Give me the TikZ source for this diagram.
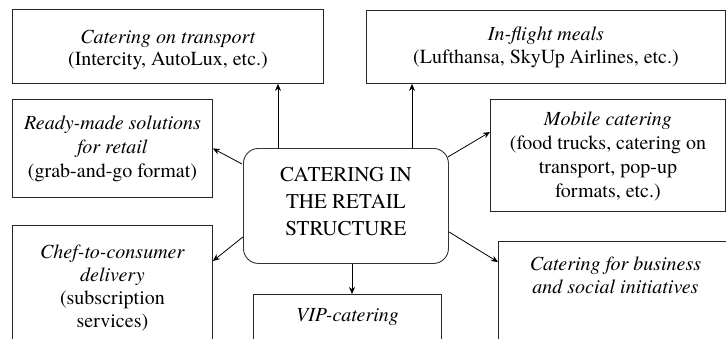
\documentclass[tikz,border=0pt]{standalone}
\usepackage{fontspec}
\setmainfont{TeX Gyre Termes}
\usetikzlibrary{arrows.meta,calc}

\tikzset{
  boxbase/.style={draw=black!85, line width=0.9pt, rectangle, inner sep=0pt, anchor=north west},
  boxtext/.style={align=center, inner sep=0pt, font=\fontsize{20}{#1}\selectfont},
  boxtext/.default=24,
  hubbox/.style={draw=black!80, line width=0.9pt, rounded corners=15pt, inner sep=0pt, anchor=north west},
  hubtext/.style={align=center, inner sep=0pt, font=\fontsize{21}{27}\selectfont},
  arr/.style={draw=black, line width=0.8pt, -{Stealth[length=7pt,width=6pt]}},
}

\begin{document}
\begin{tikzpicture}[x=1pt,y=-1pt]
\useasboundingbox (0,0) rectangle (726,338);
\clip (0,0) rectangle (726,338);

% central hub
\node[hubbox, minimum width=205pt, minimum height=115pt] (c) at (243,148) {};
\node[hubtext] (ct) at ($(c.center)+(0,-4)$) {CATERING IN\\THE RETAIL\\STRUCTURE};

% boxes fully inside the frame
\node[boxbase, minimum width=311pt, minimum height=74pt] (tr) at (12,9) {};
\node[boxtext=22] (trt) at ($(tr.center)+(0,4)$)
  {\textit{Catering on transport}\\(Intercity, AutoLux, etc.)};
\node[boxbase, minimum width=200pt, minimum height=98pt] (rm) at (12,99) {};
\node[boxtext] (rmt) at (rm.center)
  {\textit{Ready-made solutions}\\\textit{for retail}\\(grab-and-go format)};
\node[boxbase, minimum width=359pt, minimum height=73pt] (fl) at (366,10) {};
\node[boxtext=23] (flt) at (fl.center)
  {\textit{In-flight meals}\\(Lufthansa, SkyUp Airlines, etc.)};
\node[boxbase, minimum width=235pt, minimum height=112pt] (mo) at (490,99) {};
\node[boxtext] (mot) at ($(mo.center)+(0,1)$)
  {\textit{Mobile catering}\\(food trucks, catering on\\transport, pop-up\\formats, etc.)};

% boxes running past the lower edge, text set from the top
\node[boxbase, minimum width=200pt, minimum height=130pt] (ch) at (12,225) {};
\node[boxtext=23, anchor=north] (cht) at ($(ch.north)+(0,20)$)
  {\textit{Chef-to-consumer}\\\textit{delivery}\\(subscription\\services)};
\node[boxbase, minimum width=188pt, minimum height=60pt] (vip) at (253,294) {};
\node[boxtext, anchor=north] (vipt) at ($(vip.north)+(0,14)$) {\textit{VIP-catering}};
\node[boxbase, minimum width=240pt, minimum height=110pt] (bu) at (498,241) {};
\node[boxtext=23, anchor=north] (but) at ($(bu.north)+(-3,16)$)
  {\textit{Catering for business}\\\textit{and social initiatives}};

% connectors from the hub
\draw[arr] ($(c.north west)+(35,0)$) coordinate (a1) -- (a1 |- tr.south);
\draw[arr] ($(c.north west)+(169,0)$) coordinate (a2) -- (a2 |- fl.south);
\draw[arr] ($(c.north west)+(-1,16)$) -- (rm.east);
\draw[arr] ($(c.north east)+(-1,9)$) -- ($(mo.north west)+(0,33)$);
\draw[arr] ($(c.south west)+(0,-27)$) -- ($(ch.north east)+(0,36)$);
\draw[arr] ($(c.south east)+(0,-32)$) -- ($(bu.north west)+(0,21)$);
\draw[arr] ($(c.south west)+(109,0)$) coordinate (a3) -- (a3 |- vip.north);
\end{tikzpicture}
\end{document}
